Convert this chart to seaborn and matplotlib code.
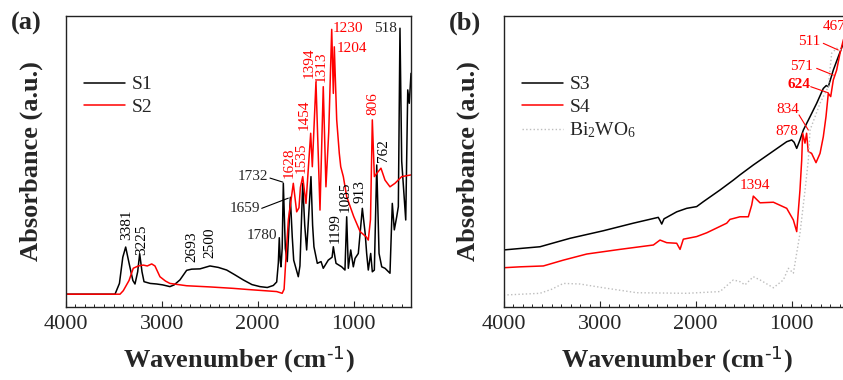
import matplotlib
matplotlib.use("Agg")
import matplotlib.pyplot as plt
import seaborn as sns
import pandas as pd

# panel (a) spectra: wavenumber (cm-1) and absorbance (a.u., 0-100 of axis height)
s1_wn = [4000, 3486, 3440, 3405, 3375, 3340, 3300, 3278, 3250, 3229, 3205, 3184,
         3120, 3052, 2990, 2914, 2870, 2810, 2740, 2688, 2601, 2497, 2410, 2323,
         2240, 2150, 2060, 1976, 1900, 1837, 1802, 1785, 1775, 1765, 1757, 1745,
         1733, 1712, 1692, 1660, 1640, 1625, 1577, 1560, 1531, 1510, 1490, 1445,
         1428, 1414, 1379, 1340, 1317, 1265, 1225, 1212, 1195, 1184, 1125, 1091,
         1073, 1056, 1031, 1004, 986, 952, 910, 880, 865, 848, 823, 806, 785, 760,
         736, 708, 674, 622, 598, 577, 552, 535, 518, 500, 458, 437, 421, 403]
s1_abs = [4.3, 4.3, 8, 17, 20.5, 15, 9, 7.8, 12, 18.2, 12, 8.6,
          8.0, 7.8, 7.5, 6.9, 7.5, 9.2, 12.5, 12.9, 13.0, 14.0, 13.5, 12.6,
          11, 9.2, 7.6, 6.9, 6.6, 7.3, 8.5, 15, 23.7, 16, 13.7, 20,
          42.4, 20, 15.5, 37.6, 24, 16, 10.3, 14, 42.4, 28, 19.5, 44.7,
          28, 20.6, 14.9, 15.5, 13.2, 16, 17, 20.6, 17, 14.9, 13.7, 12.6,
          30.9, 13.2, 19.5, 13.7, 16.6, 18.3, 33.8, 25, 18.3, 12.6, 18.3, 12, 12.6, 48.7,
          18.3, 13.7, 13.2, 11.5, 35.5, 26.4, 30.9, 34.4, 95.7, 50, 29.8, 74.5, 69.9, 80.2]

s2_wn = [4000, 3434, 3400, 3340, 3296, 3244, 3192, 3150, 3104, 3070, 3018, 2960,
         2914, 2740, 2500, 2254, 2100, 1802, 1745, 1725, 1700, 1680, 1629, 1594,
         1570, 1555, 1531, 1497, 1448, 1431, 1393, 1351, 1317, 1289, 1260, 1229,
         1212, 1202, 1177, 1150, 1135, 1108, 1073, 1000, 933, 870, 848, 825, 806,
         785, 760, 716, 674, 622, 570, 500, 400]
s2_abs = [4.3, 4.3, 5.5, 9, 13.2, 14.0, 14.3, 14.0, 14.7, 14.0, 10.3, 8.8,
          8.0, 7.2, 6.8, 6.3, 5.9, 5.2, 4.6, 6, 20, 30, 42.4, 32.6,
          34, 41, 44.7, 35.5, 59.6, 48.1, 77.3, 33.2, 75.6, 41.2, 60, 95.3,
          73.3, 89.3, 64.2, 52.7, 48.1, 44.7, 37.8, 31, 25.8, 24, 22.9, 30, 64.2,
          44.7, 45.8, 47.6, 43.5, 41.2, 42.4, 44.7, 45.3]

# panel (b) spectra
s3_wn = [4000, 3796, 3622, 3450, 3309, 2962, 2650, 2390, 2370, 2354, 2330, 2302,
         2198, 2094, 1990, 1920, 1747, 1608, 1539, 1400, 1226, 1052, 1000, 975,
         948, 914, 879, 809, 740, 671, 640, 619, 567, 515, 462, 420]
s3_abs = [19.5, 20.1, 20.6, 22.2, 23.5, 26.1, 28.7, 30.7, 29.5, 28.4, 30.2, 30.7,
          32.6, 33.8, 34.4, 36.1, 40.1, 43.5, 45.3, 48.7, 52.7, 56.7, 57.3, 56.5,
          54.4, 57.3, 60.7, 65.3, 69.9, 75.0, 76.0, 75.6, 81.3, 85.9, 90.5, 94]

s4_wn = [4000, 3995, 3830, 3587, 3379, 3135, 2789, 2441, 2372, 2302, 2198, 2163,
         2129, 1990, 1885, 1677, 1643, 1539, 1452, 1417, 1400, 1330, 1191, 1052,
         983, 948, 914, 896, 886, 862, 845, 828, 793, 747, 705, 671, 643, 619,
         594, 567, 532, 497, 462, 420]
s4_abs = [4.6, 13.4, 13.7, 14, 16, 18.1, 19.7, 21.2, 22.9, 22.0, 21.8, 19.7,
          23.2, 24.1, 25.4, 28.7, 30.0, 30.9, 30.9, 34.9, 38.0, 35.7, 35.9, 33.8,
          29.8, 25.8, 40.1, 50.4, 59.6, 56.2, 59.6, 53.3, 52.7, 49.5, 52.7, 58.4, 65.3, 73.3,
          72.2, 77.9, 81.3, 87.1, 91.7, 95]

bwo_wn = [4000, 3622, 3500, 3379, 3205, 2962, 2615, 2094, 1747, 1608, 1539, 1487,
          1400, 1330, 1191, 1087, 1035, 983, 914, 861, 827, 809, 705, 619, 584,
          532, 480, 420]
bwo_abs = [4.0, 4.6, 6, 8.0, 7.8, 6.5, 4.8, 4.6, 5.2, 9.2, 8.6, 7.5,
           10.3, 9.2, 6.5, 9.2, 13.2, 11.5, 25.2, 40.1, 50.4, 60.7, 69.9, 75.6, 87.1,
           88.8, 88.2, 88]

RED = "#ff0000"
GRAY = "#bdbdbd"


def draw(ax, wn, ab, label, color, ls="-", lw=1.1):
    df = pd.DataFrame({"wn": wn, "abs": ab})
    sns.lineplot(data=df, x="wn", y="abs", ax=ax, sort=False, estimator=None,
                 color=color, linestyle=ls, linewidth=lw, label=label)


def style_axes(ax, tag, ylab_x):
    ax.set_xlim(4000, 400)
    ax.set_ylim(0, 100)
    ax.set_xticks([4000, 3000, 2000, 1000])
    ax.set_xticks(range(3900, 399, -100), minor=True)
    ax.set_yticks([])
    ax.tick_params(axis="x", which="major", direction="in", length=4.5, width=0.8,
                   labelsize=16, pad=6, top=False)
    ax.tick_params(axis="x", which="minor", direction="in", length=2.5, width=0.7, top=False)
    for sp in ax.spines.values():
        sp.set_linewidth(1.0)
        sp.set_color("#222222")
    ax.set_xlabel(r"Wavenumber (cm$^{\text{-1}}$)", fontsize=19, fontweight="bold", labelpad=7)
    ax.set_ylabel("Absorbance (a.u.)", fontsize=19, fontweight="bold")
    ax.yaxis.set_label_coords(ylab_x, 0.5)
    ax.text(-0.158, 0.975, tag, transform=ax.transAxes, fontsize=19, fontweight="bold",
            ha="left", va="center")


def main():
    sns.set_theme(style="ticks")
    plt.rcParams["font.family"] = ["Liberation Serif", "DejaVu Serif"]
    plt.rcParams["mathtext.default"] = "regular"

    fig = plt.figure(figsize=(8.43, 3.80), dpi=100)
    ax1 = fig.add_axes([0.0779, 0.1929, 0.4100, 0.7658])
    ax2 = fig.add_axes([0.5975, 0.1929, 0.4100, 0.7658])

    # (a)
    draw(ax1, s1_wn, s1_abs, "S1", "black")
    draw(ax1, s2_wn, s2_abs, "S2", RED)
    style_axes(ax1, "(a)", -0.066)

    rot = [("3381", 3361, 22.9, "black"), ("3225", 3208, 17.8, "black"),
           ("2693", 2688, 15.4, "black"), ("2500", 2497, 16.7, "black"),
           ("1628", 1672, 44.1, RED), ("1535", 1542, 45.8, RED),
           ("1454", 1518, 60.7, RED), ("1394", 1466, 78.6, RED),
           ("1313", 1340, 77.2, RED), ("806", 796, 65.9, RED),
           ("762", 692, 49.7, "black"), ("913", 934, 35.6, "black"),
           ("1085", 1091, 32.5, "black"), ("1199", 1195, 21.9, "black")]
    for s, x, y, c in rot:
        ax1.text(x, y, s, rotation=90, ha="center", va="bottom", fontsize=11, color=c)
    ax1.text(1799, 24.6, "1780", ha="right", va="center", fontsize=11)
    ax1.text(1893, 44.6, "1732", ha="right", va="center", fontsize=11)
    ax1.plot([1872, 1737], [44.2, 42.8], color="black", lw=0.8)
    ax1.text(1976, 33.9, "1659", ha="right", va="center", fontsize=11)
    ax1.plot([1958, 1681], [33.8, 37.3], color="black", lw=0.8)
    ax1.text(1216, 95.7, "1230", ha="left", va="center", fontsize=11, color=RED)
    ax1.text(1177, 88.8, "1204", ha="left", va="center", fontsize=11, color=RED)
    ax1.text(549, 95.7, "518", ha="right", va="center", fontsize=11)
    ax1.legend(loc="upper left", bbox_to_anchor=(0.03, 0.82), frameon=False, fontsize=14,
               handlelength=2.1, handletextpad=0.35, labelspacing=0.25, borderaxespad=0)

    # (b)
    draw(ax2, s3_wn, s3_abs, "S3", "black")
    draw(ax2, s4_wn, s4_abs, "S4", RED)
    draw(ax2, bwo_wn, bwo_abs, "Bi$_2$WO$_6$", GRAY, ls=":", lw=1.0)
    style_axes(ax2, "(b)", -0.068)

    ax2.text(1382, 41.8, "1394", ha="center", va="center", fontsize=11, color=RED)
    ax2.text(934, 60.1, "878", ha="right", va="center", fontsize=11, color=RED)
    ax2.text(924, 67.6, "834", ha="right", va="center", fontsize=11, color=RED)
    ax2.plot([924, 827], [65.9, 60.7], color=RED, lw=0.8)
    ax2.text(809, 76.2, "624", ha="right", va="center", fontsize=11, color=RED,
             fontweight="bold")
    ax2.plot([802, 619], [75.6, 73.5], color=RED, lw=0.8)
    ax2.text(775, 82.5, "571", ha="right", va="center", fontsize=11, color=RED)
    ax2.plot([740, 567], [81.9, 79.6], color=RED, lw=0.8)
    ax2.text(705, 91.1, "511", ha="right", va="center", fontsize=11, color=RED)
    ax2.plot([671, 515], [90.5, 88.2], color=RED, lw=0.8)
    ax2.text(674, 96.2, "467", ha="left", va="center", fontsize=11, color=RED)
    ax2.legend(loc="upper left", bbox_to_anchor=(0.03, 0.82), frameon=False, fontsize=14,
               handlelength=2.1, handletextpad=0.35, labelspacing=0.25, borderaxespad=0)

    fig.savefig("out.png", dpi=100)
    plt.close(fig)


if __name__ == "__main__":
    main()
